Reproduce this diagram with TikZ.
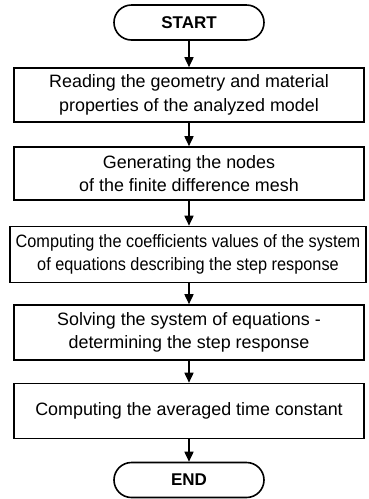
\documentclass[tikz,border=0pt]{standalone}
\usepackage{fontspec}
\setmainfont{Liberation Sans}
\newfontfamily\narrowfont{Liberation Sans}[FakeStretch=0.91]
\usetikzlibrary{arrows.meta, shapes.misc, positioning}

\begin{document}
\begin{tikzpicture}[x=1pt,y=1pt,
    box/.style={draw,line width=1.6pt,minimum width=350pt,minimum height=54pt,
      inner sep=0pt,align=center,font=\fontsize{17.9}{23.5}\selectfont},
    term/.style={draw,line width=1.6pt,rounded rectangle,minimum width=150pt,
      minimum height=35pt,inner sep=0pt,font=\fontsize{17}{22}\selectfont\bfseries},
    flow/.style={-{Triangle[length=10pt,width=9pt]},line width=1.6pt}]
    \useasboundingbox (0,0) rectangle (368,-499);

    % terminals and steps
    \node[term] (start) at (189,-22.5) {START};
    \node[box] (read) at (189,-95) {Reading the geometry and material\\properties of the analyzed model};
    \node[box,minimum height=53pt] (mesh) at (189,-173.5) {Generating the nodes\\of the finite difference mesh};
    \node[box,minimum width=356pt,minimum height=56pt,font=\fontsize{17.9}{23.5}\narrowfont] (coef) at (188,-254.5) {Computing the coefficients values of the system\\of equations describing the step response};
    \node[box,minimum height=55pt] (solve) at (189,-332.5) {Solving the system of equations -\\determining the step response};
    \node[box,minimum height=55pt] (avg) at (189,-411) {Computing the averaged time constant};
    \node[term] (end) at (189,-480) {END};

    % connectors
    \draw[flow] (start) -- (read);
    \draw[flow] (read) -- (mesh);
    \draw[flow] (mesh) -- (coef.north -| mesh.south);
    \draw[flow] (coef.south -| mesh.south) -- (solve);
    \draw[flow] (solve) -- (avg);
    \draw[flow] (avg) -- (end);
\end{tikzpicture}
\end{document}
